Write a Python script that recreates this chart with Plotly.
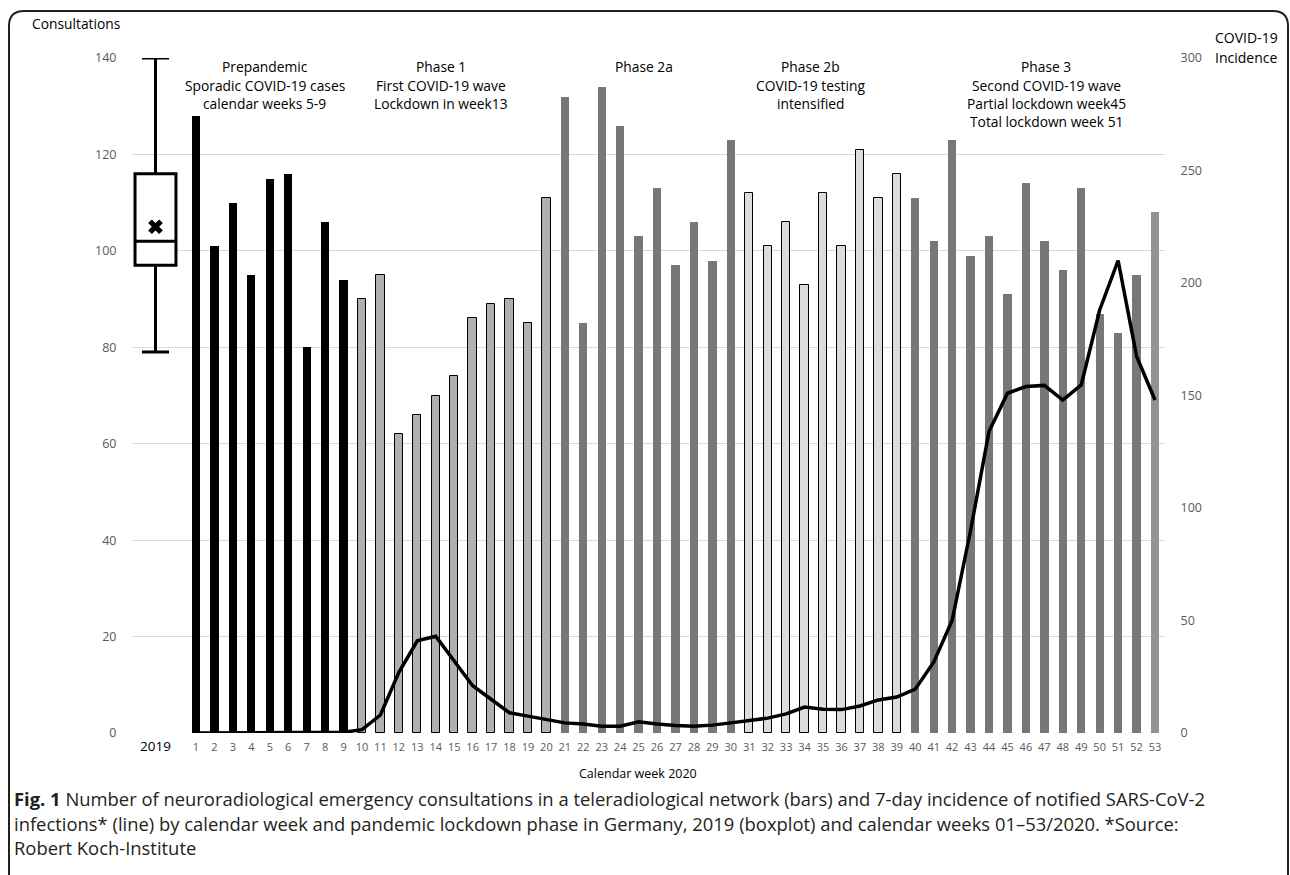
import plotly.graph_objects as go

# ---------------- data ----------------
weeks = list(range(1, 54))
consultations = [128, 101, 110, 95, 115, 116, 80, 106, 94,
                 90, 95, 62, 66, 70, 74, 86, 89, 90, 85, 111,
                 132, 85, 134, 126, 103, 113, 97, 106, 98, 123,
                 112, 101, 106, 93, 112, 101, 121, 111, 116,
                 111, 102, 123, 99, 103, 91, 114, 102, 96, 113, 87, 83, 95, 108]
incidence = [0, 0, 0, 0, 0, 0, 0, 0, 0.3,
             1.5, 8, 27, 41, 43, 32, 21, 15, 9, 7.5, 6,
             4.5, 4, 3, 3, 5, 4, 3.3, 3, 3.5, 4.5,
             5.5, 6.6, 8.5, 11.5, 10.6, 10.4, 12, 14.7, 16,
             19.5, 31.5, 50, 90, 134, 151, 154, 154.5, 148, 154.7, 188, 210, 167.5, 148]
# phase of each week: 0 prepandemic, 1 phase 1, 2 phase 2a, 3 phase 2b, 4 phase 3, 5 week 53
phase = [0]*9 + [1]*11 + [2]*10 + [3]*9 + [4]*13 + [5]
phase_fill = {0: "#000000", 1: "#b0b0b0", 2: "#767776", 3: "#dcdcdc", 4: "#767776", 5: "#939393"}
phase_outline = {0: 0, 1: 1, 2: 0, 3: 1, 4: 0, 5: 0}

box_label = "2019"
box_stats = dict(lowerfence=79, q1=97, median=102, q3=116, upperfence=140, mean=105)

phase_texts = [
    (4.74, ["Prepandemic", "Sporadic COVID-19 cases", "calendar weeks 5-9"]),
    (14.29, ["Phase 1", "First COVID-19 wave", "Lockdown in week13"]),
    (25.3, ["Phase 2a"]),
    (34.3, ["Phase 2b", "COVID-19 testing", "intensified"]),
    (47.1, ["Phase 3", "Second COVID-19 wave", "Partial lockdown week45", "Total lockdown week 51"]),
]
caption_lines = [
    "<b>Fig. 1</b> Number of neuroradiological emergency consultations in a teleradiological network (bars) and 7-day incidence of notified SARS-CoV-2",
    "infections* (line) by calendar week and pandemic lockdown phase in Germany, 2019 (boxplot) and calendar weeks 01\u201353/2020. *Source:",
    "Robert Koch-Institute",
]

# ---------------- layout geometry ----------------
W_PX, H_PX = 1290, 875
L, R, T, B = 132, 1165, 58, 733
PW, PH = R - L, B - T
box_pos = -1.196


def xp(px):
    return (px - L) / PW


def yp(py):
    return (B - py) / PH


FONT = "Open Sans, Segoe UI, Noto Sans, sans-serif"

fig = go.Figure()

fig.add_trace(go.Bar(
    x=weeks, y=consultations, width=0.45,
    marker=dict(color=[phase_fill[p] for p in phase],
                line=dict(color="#000000", width=[phase_outline[p] for p in phase])),
    showlegend=False, hoverinfo="x+y",
))

fig.add_trace(go.Box(
    x=[box_pos], q1=[box_stats["q1"]], median=[box_stats["median"]], q3=[box_stats["q3"]],
    lowerfence=[box_stats["lowerfence"]], upperfence=[box_stats["upperfence"]],
    width=2.22, whiskerwidth=0.66, fillcolor="#ffffff",
    line=dict(color="#000000", width=3), showlegend=False,
))
fig.add_trace(go.Scatter(
    x=[box_pos], y=[box_stats["mean"]], mode="markers",
    marker=dict(symbol="x", size=13, color="#000000"), showlegend=False,
))

fig.add_trace(go.Scatter(
    x=weeks, y=incidence, mode="lines", yaxis="y2",
    line=dict(color="#000000", width=3.5), showlegend=False,
))

ticktext = ['<span style="font-size:13.5px;fill:#000000">' + box_label + '</span>'] + [str(w) for w in weeks]
tickvals = [box_pos] + weeks

fig.update_layout(
    width=W_PX, height=H_PX,
    margin=dict(l=L, r=W_PX - R, t=T, b=H_PX - B, autoexpand=False),
    paper_bgcolor="#ffffff", plot_bgcolor="#ffffff",
    font=dict(family=FONT, color="#000000"),
    xaxis=dict(range=[1 - (196 - L) / 18.442, 53 + (R - 1155) / 18.442],
               tickvals=tickvals, ticktext=ticktext, showgrid=False, zeroline=False,
               showline=False, ticks="outside", ticklen=4, tickcolor="rgba(0,0,0,0)",
               tickfont=dict(size=11, color="#595959"), tickangle=0),
    yaxis=dict(range=[0, 140], dtick=20, showgrid=True, gridcolor="#d9d9d9", gridwidth=1,
               zeroline=False, showline=False, ticks="outside", ticklen=12,
               tickcolor="rgba(0,0,0,0)", tickfont=dict(size=12.5, color="#595959")),
    yaxis2=dict(range=[0, 300], dtick=50, overlaying="y", side="right", showgrid=False,
                zeroline=False, showline=False, ticks="outside", ticklen=12,
                tickcolor="rgba(0,0,0,0)", tickfont=dict(size=12.5, color="#595959")),
    bargap=0,
)

ann = []
ann.append(dict(text="Consultations", x=xp(30), y=yp(23), xref="paper", yref="paper",
                xanchor="left", yanchor="middle", showarrow=False, font=dict(size=13.8, color="#000000")))
ann.append(dict(text="COVID-19", x=xp(1213), y=yp(38), xref="paper", yref="paper",
                xanchor="left", yanchor="middle", showarrow=False, font=dict(size=14, color="#000000")))
ann.append(dict(text="Incidence", x=xp(1213), y=yp(57), xref="paper", yref="paper",
                xanchor="left", yanchor="middle", showarrow=False, font=dict(size=14, color="#000000")))
ann.append(dict(text="Calendar week 2020", x=xp(638), y=yp(773), xref="paper", yref="paper",
                xanchor="center", yanchor="middle", showarrow=False, font=dict(size=12.5, color="#000000")))
for xw, lines in phase_texts:
    for i, t in enumerate(lines):
        ann.append(dict(text=t, x=xw, y=yp(67 + i * 18.3), xref="x", yref="paper",
                        xanchor="center", yanchor="middle", showarrow=False,
                        font=dict(size=13.8, color="#000000")))
for i, t in enumerate(caption_lines):
    ann.append(dict(text=t, x=xp(12), y=yp(798 + i * 25), xref="paper", yref="paper",
                    xanchor="left", yanchor="middle", showarrow=False,
                    font=dict(size=18.4, color="#231f20")))
fig.update_layout(annotations=ann)

# rounded frame around the figure (open at the bottom)
x0, x1, y0, rr = xp(9), xp(1288), yp(11), 15
ybot = yp(880)
path = (f"M {x0},{ybot} L {x0},{yp(11 + rr)} "
        f"Q {x0},{y0} {xp(9 + rr)},{y0} "
        f"L {xp(1288 - rr)},{y0} Q {x1},{y0} {x1},{yp(11 + rr)} L {x1},{ybot}")
fig.add_shape(type="path", path=path, xref="paper", yref="paper",
              line=dict(color="#231f20", width=2), layer="above")

fig.write_html("out.html", config={"displayModeBar": False},
               post_script="document.body.style.margin='0';document.body.style.overflow='hidden';")
